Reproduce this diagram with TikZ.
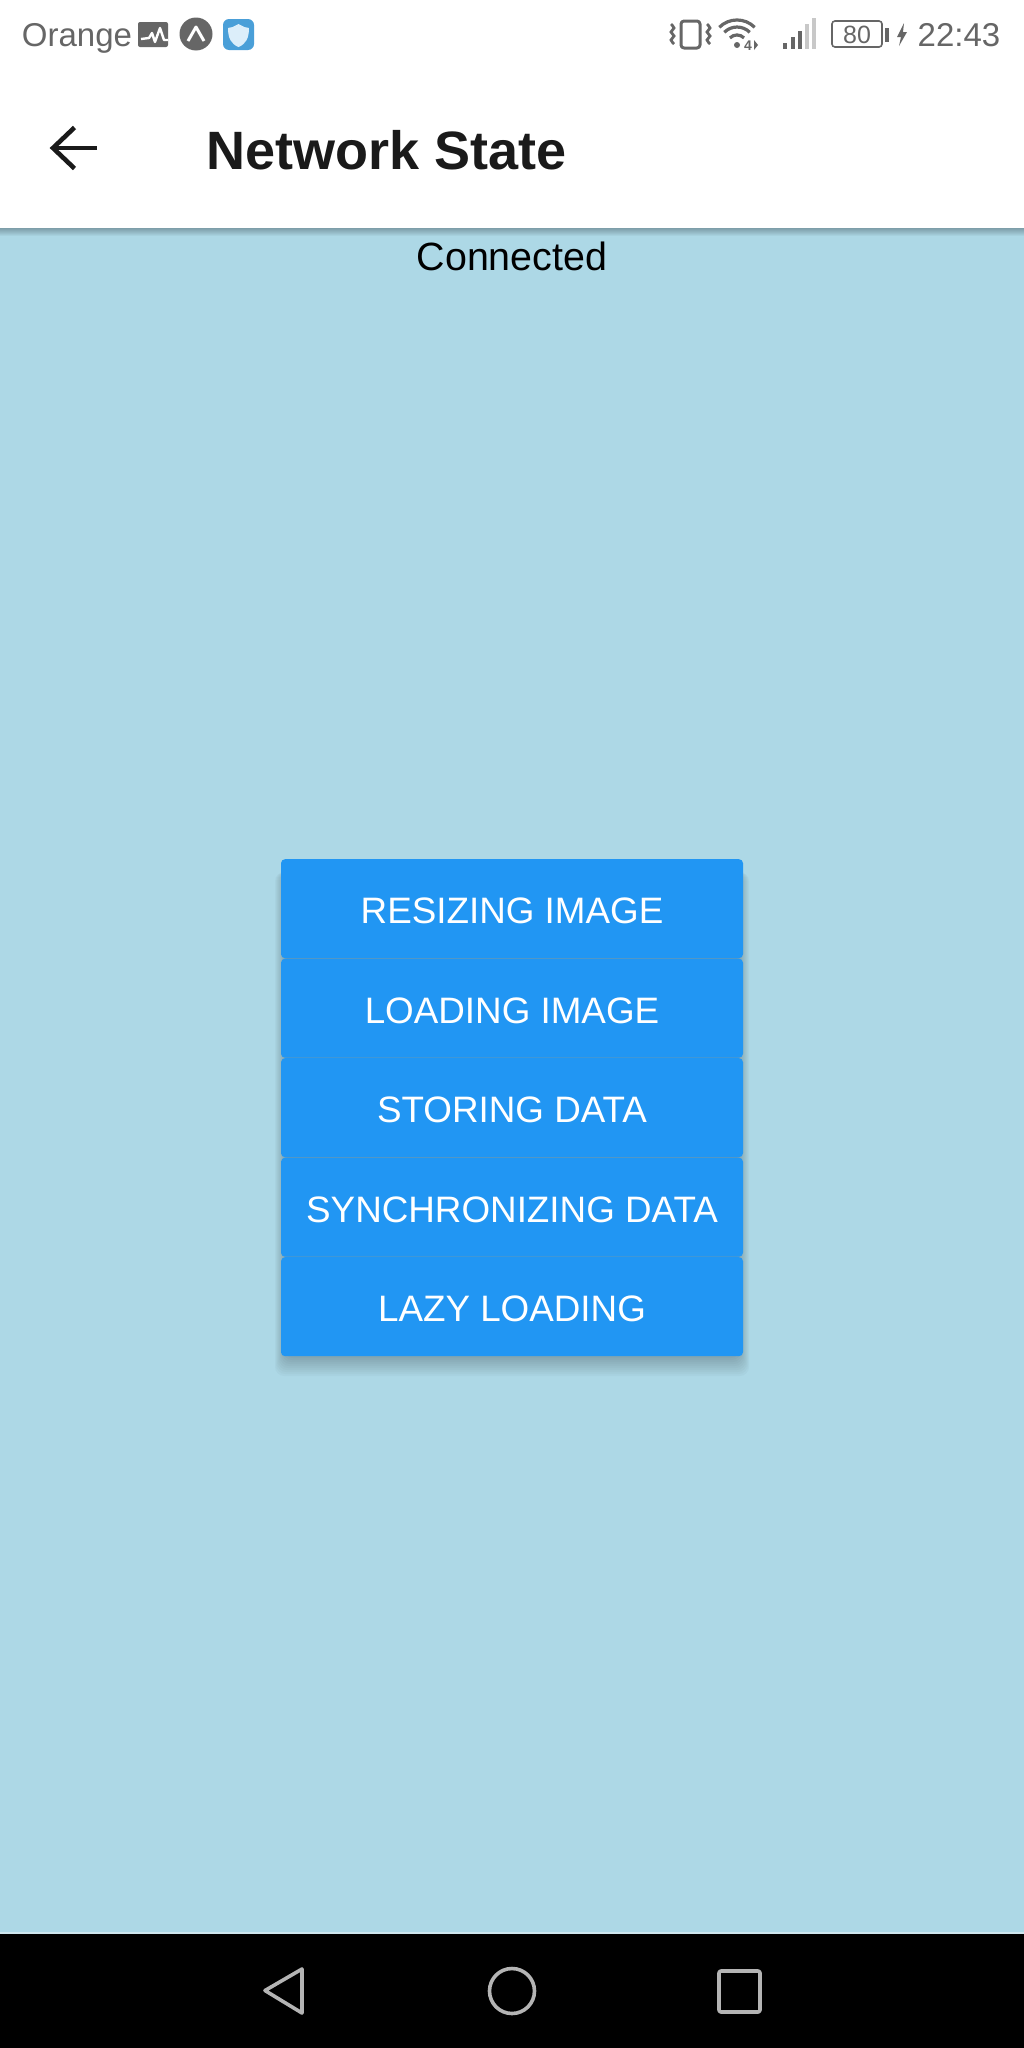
\documentclass[tikz,border=0pt]{standalone}
\usepackage{fontspec}
\setmainfont{Liberation Sans}
\definecolor{screenbg}{HTML}{ADD8E6}
\definecolor{btnblue}{HTML}{2196F3}
\definecolor{statusgrey}{HTML}{666666}
\definecolor{lightbar}{HTML}{C8C8C8}
\definecolor{navgrey}{HTML}{B4B4B4}
\definecolor{shieldblue}{HTML}{4A9FD8}
\definecolor{shieldlight}{HTML}{DCEEFA}
\definecolor{titleink}{HTML}{1A1A1A}
\definecolor{edgelight}{HTML}{CFE6EE}
\newcommand{\fsz}[1]{\fontsize{#1pt}{#1pt}\selectfont}
\tikzset{
  appbtn/.style={fill=btnblue,rounded corners=4pt,minimum width=462pt,minimum height=99pt,inner sep=0pt,
    text=white,font=\fsz{36.8},text height=30pt,text depth=0pt,anchor=north,align=center},
  statustext/.style={text=statusgrey,anchor=base,inner sep=0pt},
  navicon/.style={draw=navgrey,line width=3.6pt,line join=round},
  statline/.style={draw=statusgrey,line width=3pt,line join=round,line cap=round},
}
\begin{document}
\begin{tikzpicture}[x=1pt,y=-1pt]
\useasboundingbox (0,0) rectangle (1024,2048);
\fill[screenbg] (0,0) rectangle (1024,1934);
% app bar shadow
\foreach \i in {1,...,8}{
  \fill[black,opacity=0.035] (0,228) rectangle (1024,228+\i);
}
\fill[white] (0,0) rectangle (1024,228);
% button shadow
\foreach \i in {0,...,12}{
  \fill[black,opacity=0.022,rounded corners=9pt] (287-\i,872) rectangle (737+\i,1352+\i*2);
}
% status bar left
\node[statustext,font=\fsz{33}] (carrier) at (77,46) {Orange};
\fill[statusgrey,rounded corners=2pt] (138,22) rectangle (168,47);
\draw[white,line width=2.4pt,line join=round] (141,39) -- (149,38) -- (152,33) -- (155,42) -- (160,28) -- (164,40) -- (168,40);
\fill[statusgrey] (196,34) circle (16.5pt);
\draw[white,line width=3pt,line join=round] (188,41) -- (196,27) -- (204,41);
\fill[shieldblue,rounded corners=6pt] (223,19) rectangle (254,50);
\fill[shieldlight] (238.5,24) .. controls (233,27) and (231,28) .. (228,28) .. controls (228,38) and (231,44) .. (238.5,47) .. controls (246,44) and (249,38) .. (249,28) .. controls (246,28) and (244,27) .. (238.5,24) -- cycle;
% status bar right
\draw[statline,rounded corners=3pt] (681,21) rectangle (700,48);
\draw[draw=statusgrey,line width=2.8pt] plot[smooth] coordinates {(671,24) (674,28) (671,32) (674,36) (671,40) (674,44)};
\draw[draw=statusgrey,line width=2.8pt] plot[smooth] coordinates {(707,24) (710,28) (707,32) (710,36) (707,40) (710,44)};
\draw[statusgrey,line width=3.2pt] (719.3,27.3) arc (135:45:25pt);
\draw[statusgrey,line width=3.2pt] (724.3,32.3) arc (135:45:18pt);
\draw[statusgrey,line width=3.2pt] (729.9,37.9) arc (135:45:10pt);
\fill[statusgrey] (737,45) circle (3pt);
\node[statustext,font=\fsz{14}\bfseries] (wifinum) at (748,50) {4};
\fill[statusgrey] (754,40) -- (754,50) -- (758,45) -- cycle;
\foreach \x/\t/\c in {785/43/statusgrey,793/37/statusgrey,800/31/statusgrey,806.5/24/lightbar,813.5/18/lightbar}{
  \fill[\c] (\x-2,\t) rectangle (\x+2,49);
}
\draw[draw=statusgrey,line width=1.6pt,rounded corners=3pt] (832,21) rectangle (882,47);
\node[statustext,font=\fsz{25}] (batt) at (857,43) {80};
\fill[statusgrey] (885,28) rectangle (888.5,42);
\fill[statusgrey] (904,23) -- (897,37) -- (901,37) -- (899,46) -- (907,32) -- (903,32) -- cycle;
\node[statustext,font=\fsz{33}] (clock) at (959,46) {22:43};
% app bar
\draw[titleink,line width=4.6pt] (97,148) -- (54,148);
\draw[titleink,line width=4.6pt,line join=miter] (74.5,127.5) -- (53,148) -- (74.5,168.5);
\node[anchor=base west,inner sep=0pt,text=titleink,font=\fsz{54}\bfseries] (title) at (206,169.5) {Network State};
\node[anchor=base,inner sep=0pt,text=black,font=\fsz{39.4}] (state) at (512,270) {Connected};
% buttons
\node[appbtn] (b1) at (512,859) {RESIZING IMAGE};
\node[appbtn] (b2) at (512,958.5) {LOADING IMAGE};
\node[appbtn] (b3) at (512,1058) {STORING DATA};
\node[appbtn] (b4) at (512,1157.5) {SYNCHRONIZING DATA};
\node[appbtn] (b5) at (512,1257) {LAZY LOADING};
% navigation bar
\fill[edgelight] (0,1931.5) rectangle (1024,1934);
\fill[black] (0,1934) rectangle (1024,2048);
\draw[navicon] (302,1969) -- (265,1990.5) -- (302,2013) -- cycle;
\draw[navicon] (512,1991) ellipse (22.5pt and 22.5pt);
\draw[navicon,rounded corners=2pt] (719,1971) rectangle (760,2012);
\end{tikzpicture}
\end{document}
